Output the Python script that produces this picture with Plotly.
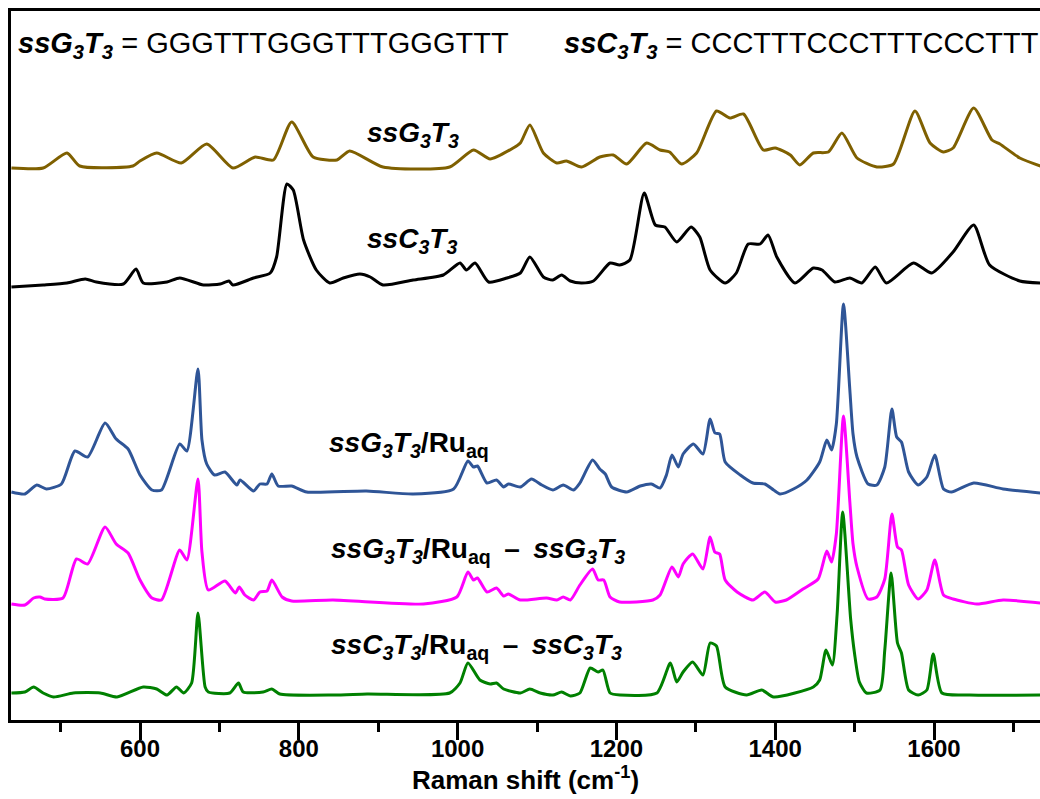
import plotly.graph_objects as go

# ---------------- data ----------------
wn_g3t3 = [438, 478, 508, 524, 591, 600, 621, 652, 684, 717, 745, 768, 791, 818, 848, 864, 906, 990,
           1020, 1041, 1070, 1079, 1091, 1108, 1125, 1137, 1156, 1179, 1196, 1213, 1238, 1255, 1267,
           1282, 1301, 1326, 1343, 1360, 1385, 1400, 1419, 1431, 1448, 1467, 1484, 1503, 1528, 1549,
           1576, 1595, 1612, 1624, 1650, 1673, 1683, 1708, 1734]
int_g3t3 = [0, 0, 15, 2, 2, 7, 15, 5, 24, 0, 11, 8, 46, 11, 8, 17, 1, 1,
            18, 9, 20, 25, 43, 15, 5, 7, 1, 11, 13, 4, 25, 18, 16,
            4, 15, 57, 50, 54, 18, 20, 13, 3, 15, 16, 35, 10, 1, 4,
            57, 25, 16, 20, 60, 28, 24, 10, 2]

wn_c3t3 = [438, 478, 508, 531, 545, 579, 595, 604, 634, 650, 680, 701, 712, 717, 743, 764, 772, 785,
           793, 806, 822, 839, 856, 877, 890, 906, 944, 982, 1003, 1011, 1022, 1039, 1062, 1079, 1091,
           1108, 1120, 1131, 1142, 1156, 1171, 1192, 1204, 1217, 1235, 1249, 1261, 1276, 1294, 1305,
           1318, 1337, 1351, 1366, 1381, 1391, 1402, 1425, 1448, 1459, 1475, 1494, 1509, 1526, 1540,
           1574, 1597, 1624, 1650, 1670, 1708, 1734]
int_c3t3 = [-2, 0, 2, 6, 3, 1, 16, 2, 3, 7, 0, 1, 4, 0, 7, 12, 28, 101,
            95, 45, 15, 2, 7, 11, 8, 0, 5, 10, 22, 15, 22, 3, 7, 12, 28,
            8, 5, 10, 4, 2, 4, 22, 20, 25, 92, 60, 58, 43, 58, 48,
            15, 2, 12, 41, 41, 50, 28, 2, 17, 15, 3, 7, 2, 18, 2,
            22, 12, 33, 60, 20, 4, 2]

wn_g3t3_ru = [438, 455, 470, 482, 501, 518, 534, 556, 570, 585, 600, 615, 627, 650, 659, 673, 678, 684,
              694, 707, 722, 726, 743, 751, 760, 766, 774, 791, 810, 885, 944, 995, 1013, 1020, 1025,
              1037, 1049, 1058, 1064, 1079, 1093, 1106, 1120, 1133, 1146, 1154, 1170, 1179, 1186, 1194,
              1213, 1230, 1244, 1255, 1263, 1270, 1278, 1284, 1297, 1309, 1318, 1324, 1330, 1337, 1356,
              1372, 1387, 1398, 1406, 1423, 1440, 1456, 1465, 1471, 1477, 1486, 1494, 1498, 1503, 1517,
              1528, 1538, 1547, 1553, 1559, 1568, 1580, 1591, 1601, 1612, 1622, 1650, 1687, 1734]
int_g3t3_ru = [0, -2, 7, 3, 8, 41, 35, 69, 53, 43, 17, 2, 2, 48, 41, 123, 52, 28,
               17, 20, 7, 12, 1, 8, 8, 18, 6, 6, 0, 1, -2, 3, 31, 25, 26,
               9, 12, 5, 8, 5, 13, 7, 2, 7, 2, 9, 32, 23, 18, 5,
               0, 6, 8, 4, 17, 37, 25, 38, 48, 38, 73, 59, 58, 30, 17,
               9, 8, 2, -2, 3, 12, 30, 52, 42, 68, 188, 102, 58, 35, 8,
               7, 25, 83, 55, 50, 20, 7, 15, 37, 3, 0, 9, 3, -1]

wn_diff_g = [438, 455, 466, 474, 480, 503, 520, 534, 556, 570, 585, 600, 615, 627, 650, 659, 673, 678,
             686, 707, 720, 725, 732, 743, 751, 760, 766, 779, 791, 843, 957, 999, 1013, 1020, 1025,
             1037, 1049, 1058, 1064, 1079, 1112, 1125, 1133, 1142, 1154, 1170, 1177, 1184, 1192, 1204,
             1246, 1255, 1270, 1278, 1284, 1296, 1309, 1318, 1324, 1330, 1337, 1352, 1372, 1387, 1400,
             1414, 1435, 1454, 1465, 1471, 1477, 1486, 1494, 1498, 1503, 1517, 1528, 1538, 1547, 1554,
             1559, 1568, 1580, 1591, 1601, 1612, 1624, 1654, 1687, 1734]
int_diff_g = [-2, -3, 4, 5, 3, 4, 43, 38, 75, 58, 49, 22, 4, 2, 52, 42, 123, 50,
              12, 21, 9, 15, 7, 2, 10, 11, 22, 5, 1, 2, -2, 5, 30, 22, 24,
              10, 14, 6, 8, 2, 4, 2, 5, 2, 17, 33, 22, 22, 5, 0,
              2, 7, 35, 25, 38, 48, 33, 65, 50, 48, 22, 10, 2, 10, 0,
              2, 13, 23, 51, 40, 68, 186, 100, 58, 35, 3, 5, 23, 88, 55,
              52, 17, 3, 12, 42, 7, 3, -2, 2, -1]

wn_diff_c = [438, 455, 466, 478, 491, 516, 550, 571, 604, 621, 634, 646, 655, 665, 673, 682, 686, 713,
             724, 730, 755, 766, 776, 844, 886, 990, 1003, 1013, 1028, 1041, 1049, 1058, 1079, 1091,
             1104, 1120, 1131, 1142, 1154, 1167, 1177, 1183, 1192, 1205, 1251, 1268, 1276, 1284, 1296,
             1309, 1318, 1326, 1337, 1364, 1383, 1398, 1448, 1456, 1464, 1472, 1478, 1485, 1495, 1500,
             1506, 1515, 1532, 1538, 1546, 1554, 1559, 1568, 1580, 1591, 1599, 1610, 1645, 1734]
int_diff_c = [1, 2, 7, 1, -3, 1, 1, -3, 7, 5, -1, 7, 1, 11, 81, 7, 2, 1,
              11, 2, 2, 5, 0, -1, 0, 1, 11, 31, 14, 10, 11, 5, 1, 5,
              1, -1, 2, -2, 1, 26, 22, 24, 1, -1, 1, 31, 12, 22, 32,
              19, 51, 48, 7, -1, 4, -3, 7, 14, 44, 29, 80, 182, 75, 40,
              12, 1, 4, 44, 121, 51, 41, 4, -1, 4, 40, 1, -1, -1]

# vertical stacking offsets of the spectra (arbitrary units)
offsets = [552, 435, 228, 118, 26]
colors = ["#7F6000", "#000000", "#2F5597", "#FF00FF", "#008000"]
series_x = [wn_g3t3, wn_c3t3, wn_g3t3_ru, wn_diff_g, wn_diff_c]
series_y = [int_g3t3, int_c3t3, int_g3t3_ru, int_diff_g, int_diff_c]

x_ticks = [600, 800, 1000, 1200, 1400, 1600]
x_title = "<b>Raman shift (cm<sup>-1</sup>)</b>"

G = "<i>ssG<sub>3</sub>T<sub>3</sub></i>"
C = "<i>ssC<sub>3</sub>T<sub>3</sub></i>"
DASH = " \u2009–\u2009 "
header_texts = ["<b>" + G + "</b> = GGGTTTGGGTTTGGGTTT",
                "<b>" + C + "</b> = CCCTTTCCCTTTCCCTTT"]
trace_labels = ["<b>" + G + "</b>",
                "<b>" + C + "</b>",
                "<b>" + G + "/Ru<sub>aq</sub></b>",
                "<b>" + G + "/Ru<sub>aq</sub>" + DASH + G + "</b>",
                "<b>" + C + "/Ru<sub>aq</sub>" + DASH + C + "</b>"]

FONT = "Arial, Liberation Sans, sans-serif"

fig = go.Figure()
for xs, ys, off, col in zip(series_x, series_y, offsets, colors):
    fig.add_trace(go.Scatter(
        x=xs, y=[v + off for v in ys], mode="lines",
        line=dict(color=col, width=3, shape="spline", smoothing=0.6),
        showlegend=False, hoverinfo="skip"))

# header annotations
fig.add_annotation(x=444, y=675, xref="x", yref="y", text=header_texts[0], showarrow=False,
                   xanchor="left", yanchor="middle", font=dict(family=FONT, size=29, color="black"))
fig.add_annotation(x=1132, y=675, xref="x", yref="y", text=header_texts[1], showarrow=False,
                   xanchor="left", yanchor="middle", font=dict(family=FONT, size=29, color="black"))

# trace labels
label_pos = [(944, 586, "center"), (943, 480, "center"), (836, 276, "left"),
             (838, 170, "left"), (838, 74, "left")]
for txt, (lx, ly, anc) in zip(trace_labels, label_pos):
    fig.add_annotation(x=lx, y=ly, xref="x", yref="y", text=txt, showarrow=False,
                       xanchor=anc, yanchor="middle",
                       font=dict(family=FONT, size=28, color="black"))

fig.update_layout(
    width=1040, height=799,
    margin=dict(l=11, r=0, t=11, b=79),
    paper_bgcolor="white", plot_bgcolor="white",
    font=dict(family=FONT, color="black"),
)
fig.update_xaxes(
    range=[437.5, 1733.5], showgrid=False, zeroline=False, automargin=False,
    showline=True, linecolor="black", linewidth=3, mirror=True,
    ticks="outside", ticklen=17, tickwidth=3, tickcolor="black",
    tickvals=x_ticks, ticktext=[str(t) for t in x_ticks],
    tickfont=dict(family=FONT, size=24, color="black", weight="bold"),
    ticklabelstandoff=-12,
    minor=dict(ticks="outside", ticklen=9, tickwidth=3, tickcolor="black", dtick=100, tick0=0),
    title=dict(text=x_title, font=dict(family=FONT, size=26, color="black"), standoff=4),
)
fig.update_yaxes(
    range=[0, 709], showgrid=False, zeroline=False, automargin=False,
    showline=True, linecolor="black", linewidth=3, mirror=False,
    showticklabels=False, ticks="",
)

fig.write_html("out.html",
               config={"displayModeBar": False},
               post_script="document.body.style.margin='0px';document.body.style.overflow='hidden';")
